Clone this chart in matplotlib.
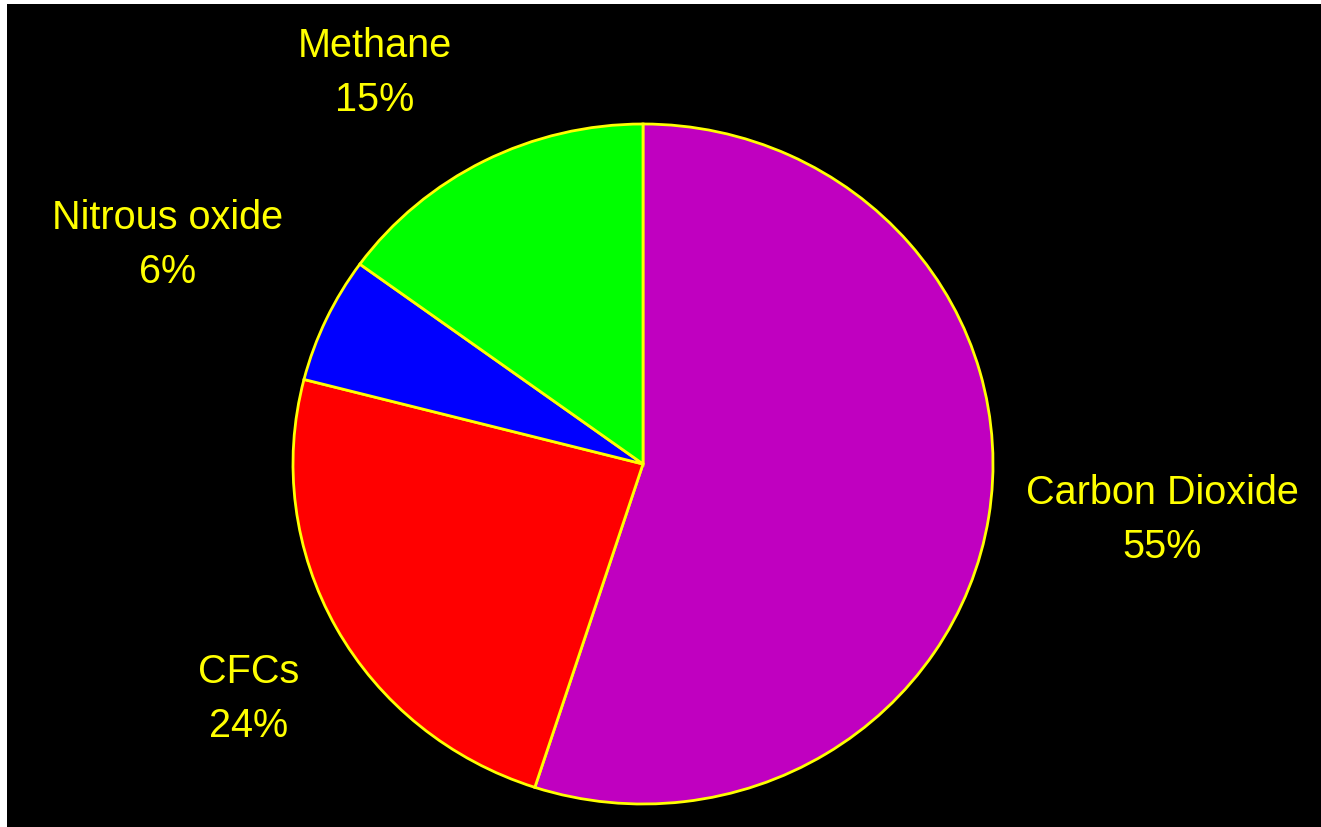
import matplotlib
matplotlib.use('Agg')
import matplotlib.pyplot as plt

# greenhouse gas shares (%)
gases = ['Carbon Dioxide', 'CFCs', 'Nitrous oxide', 'Methane']
shares = [55, 24, 6, 15]
colors = ['#C000C0', '#FF0000', '#0000FF', '#00FF00']

# label positions (pixels of the 1321x828 picture), purely layout
label_px = [(1162, 520), (249, 699), (168, 245), (375, 73)]

W, H = 1321, 828
cx, cy, rx, ry = 643, 465, 350, 340   # pie centre / radii in pixels

fig = plt.figure(figsize=(W / 100, H / 100), dpi=100, facecolor='white')
ax = fig.add_axes([7 / W, 0, (W - 7) / W, (H - 5) / H])

ax.pie(shares, colors=colors, startangle=90, counterclock=False,
       wedgeprops=dict(edgecolor='#FFFF00', linewidth=2))

# pie() switches the frame off, bring the black background back
ax.set_frame_on(True)
ax.set_facecolor('black')
ax.set_aspect('auto')
ax.set_xlim((7 - cx) / rx, (W - cx) / rx)
ax.set_ylim((cy - H) / ry, (cy - 5) / ry)
ax.set_xticks([])
ax.set_yticks([])
for s in ax.spines.values():
    s.set_visible(False)

for name, val, (px, py) in zip(gases, shares, label_px):
    ax.text((px - cx) / rx, (cy - py) / ry, f'{name}\n{val}%',
            color='#FFFF00', fontsize=28.5, family='Liberation Sans',
            ha='center', va='center', linespacing=1.55)

fig.savefig('out.png', dpi=100, facecolor=fig.get_facecolor())
